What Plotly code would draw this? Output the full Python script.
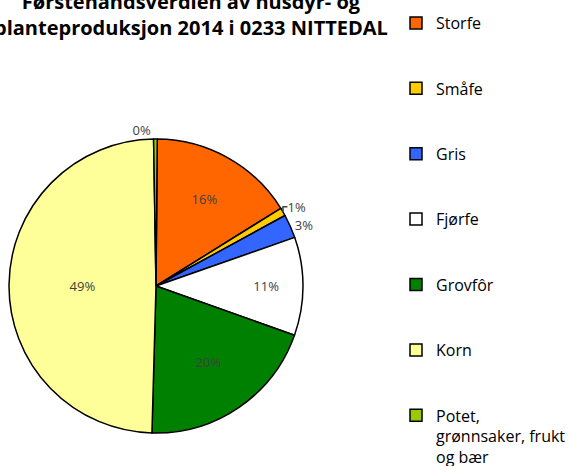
import plotly.graph_objects as go

categories = ["Storfe", "Småfe", "Gris", "Fjørfe", "Grovfôr", "Korn", "Potet, grønnsaker, frukt og bær"]
legend_labels = ["Storfe", "Småfe", "Gris", "Fjørfe", "Grovfôr", "Korn", "Potet,<br>grønnsaker, frukt<br>og bær"]
values = [16.0, 0.9, 2.6, 10.8, 20.0, 49.3, 0.4]
colors = ["#FF6600", "#FFCC00", "#3366FF", "#FFFFFF", "#008000", "#FFFF99", "#99CC00"]
text_positions = ["inside", "outside", "outside", "inside", "inside", "inside", "outside"]
title_text = "Førstehandsverdien av husdyr- og<br>planteproduksjon 2014 i 0233 NITTEDAL"

W, H = 569, 466
pad = "<br> <br> "
labels = [l + (pad if i < len(legend_labels) - 1 else "") for i, l in enumerate(legend_labels)]

fig = go.Figure(go.Pie(
    labels=labels,
    values=values,
    sort=False,
    direction="clockwise",
    rotation=0.5,
    marker=dict(colors=colors, line=dict(color="#000000", width=1.5)),
    texttemplate="%{percent:.0%}",
    textposition=text_positions,
    insidetextorientation="horizontal",
    textfont=dict(family="Open Sans, Liberation Sans, sans-serif", size=13, color="#404040"),
    domain=dict(x=[9 / W, 303 / W], y=[1 - 433 / H, 1 - 139 / H]),
    hoverinfo="label+percent",
))

fig.update_layout(
    width=W, height=H,
    margin=dict(l=0, r=0, t=0, b=0, autoexpand=False),
    paper_bgcolor="white",
    plot_bgcolor="white",
    showlegend=True,
    legend=dict(
        x=396 / W, xanchor="left",
        y=1 - 6 / H, yanchor="top",
        valign="top",
        maxheight=700,
        font=dict(family="Open Sans, Liberation Sans, sans-serif", size=16, color="#000000"),
        itemwidth=30,
        bgcolor="rgba(0,0,0,0)",
    ),
    annotations=[dict(
        text="<b>" + title_text + "</b>",
        xref="paper", yref="paper",
        x=191 / W, y=1 - 15 / H,
        xanchor="center", yanchor="middle",
        showarrow=False,
        font=dict(family="Open Sans, Liberation Sans, sans-serif", size=20, color="#000000"),
        align="center",
    )],
)

fig.write_html("out.html", config={"displayModeBar": False},
               post_script="document.body.style.margin='0';")
